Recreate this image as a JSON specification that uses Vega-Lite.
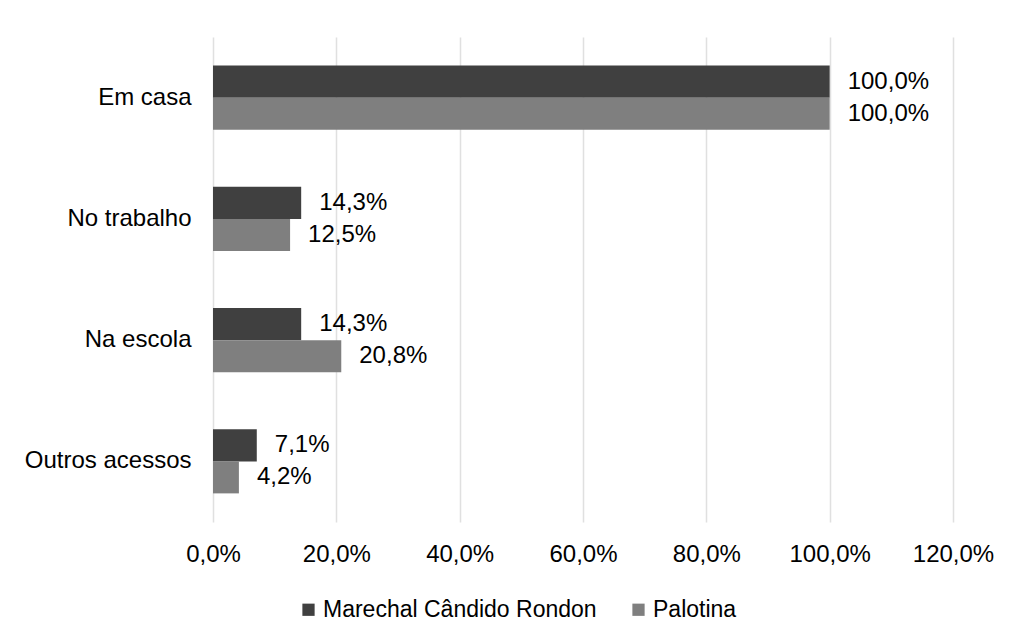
{
  "$schema": "https://vega.github.io/schema/vega-lite/v6.json",
  "width": 740,
  "height": 485,
  "autosize": {"type": "none"},
  "padding": {"left": 213, "top": 37, "right": 58, "bottom": 115},
  "background": "white",
  "config": {
    "view": {"stroke": null},
    "font": "Liberation Sans",
    "locale": {
      "number": {"decimal": ",", "thousands": ".", "grouping": [3], "currency": ["R$", ""]}
    }
  },
  "data": {
    "values": [
      {"local": "Em casa", "cidade": "Marechal Cândido Rondon", "valor": 1.0},
      {"local": "Em casa", "cidade": "Palotina", "valor": 1.0},
      {"local": "No trabalho", "cidade": "Marechal Cândido Rondon", "valor": 0.143},
      {"local": "No trabalho", "cidade": "Palotina", "valor": 0.125},
      {"local": "Na escola", "cidade": "Marechal Cândido Rondon", "valor": 0.143},
      {"local": "Na escola", "cidade": "Palotina", "valor": 0.208},
      {"local": "Outros acessos", "cidade": "Marechal Cândido Rondon", "valor": 0.071},
      {"local": "Outros acessos", "cidade": "Palotina", "valor": 0.042}
    ]
  },
  "encoding": {
    "y": {
      "field": "local",
      "type": "nominal",
      "sort": ["Em casa", "No trabalho", "Na escola", "Outros acessos"],
      "scale": {"paddingInner": 0.472, "paddingOuter": 0.236},
      "axis": {
        "title": null,
        "domain": false,
        "ticks": false,
        "labelPadding": 22,
        "labelFontSize": 24,
        "labelLimit": 300,
        "labelColor": "#000000",
        "labelFont": "Liberation Sans"
      }
    },
    "yOffset": {
      "field": "cidade",
      "type": "nominal",
      "sort": ["Marechal Cândido Rondon", "Palotina"]
    },
    "x": {
      "field": "valor",
      "type": "quantitative",
      "scale": {"domain": [0, 1.2]},
      "axis": {
        "title": null,
        "format": ".1%",
        "values": [0, 0.2, 0.4, 0.6, 0.8, 1.0, 1.2],
        "domain": false,
        "ticks": false,
        "grid": true,
        "gridColor": "#e0e0e0",
        "gridWidth": 1.5,
        "labelFlush": false,
        "labelPadding": 20,
        "labelFontSize": 24,
        "labelColor": "#000000",
        "labelFont": "Liberation Sans"
      }
    }
  },
  "layer": [
    {
      "mark": {"type": "bar"},
      "encoding": {
        "color": {
          "field": "cidade",
          "type": "nominal",
          "sort": ["Marechal Cândido Rondon", "Palotina"],
          "scale": {"range": ["#404040", "#7f7f7f"]},
          "legend": {
            "title": null,
            "orient": "none",
            "direction": "horizontal",
            "legendX": 84,
            "legendY": 561,
            "symbolType": "square",
            "symbolSize": 150,
            "symbolStrokeWidth": 0,
            "labelFontSize": 23,
            "labelLimit": 400,
            "labelColor": "#000000",
            "labelFont": "Liberation Sans",
            "labelOffset": 3,
            "columnPadding": 30
          }
        }
      }
    },
    {
      "mark": {"type": "text", "align": "left", "baseline": "middle", "dx": 18, "fontSize": 24, "color": "#000000"},
      "encoding": {
        "text": {"field": "valor", "type": "quantitative", "format": ".1%"}
      }
    }
  ]
}
